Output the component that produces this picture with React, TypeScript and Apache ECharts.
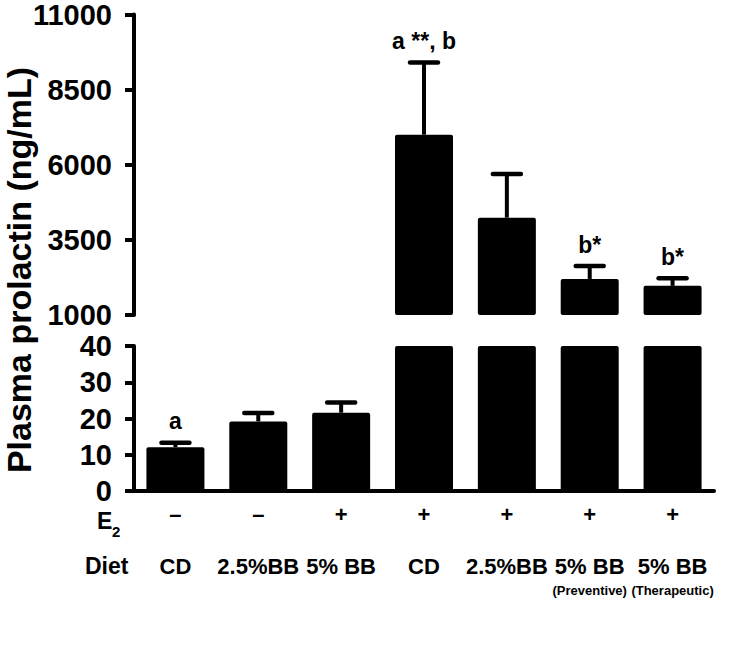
import React, { useEffect, useRef } from "react";
import * as echarts from "echarts";

const groups = ["g1", "g2", "g3", "g4", "g5", "g6", "g7"];
const e2Signs = ["–", "–", "+", "+", "+", "+", "+"];
const dietNames = ["CD", "2.5%BB", "5% BB", "CD", "2.5%BB", "5% BB", "5% BB"];
const dietNotes = ["", "", "", "", "", "(Preventive)", "(Therapeutic)"];
const means = [12.1, 19.2, 21.6, 7000, 4240, 2200, 1970];
const sems = [1.2, 2.3, 2.8, 2400, 1450, 430, 255];
const annotations = ["a", "", "", "a **, b", "", "b*", "b*"];
const upperAxis = { min: 1000, max: 11000, interval: 2500 };
const lowerAxis = { min: 0, max: 40, interval: 10 };
const yTitle = "Plasma prolactin (ng/mL)";

const FAMILY = "Liberation Sans, Arial, sans-serif";

export default function App() {
  const ref = useRef<HTMLDivElement>(null);
  useEffect(() => {
    if (!ref.current) return;
    const chart = echarts.init(ref.current, undefined, { renderer: "svg" });

    const renderErr = (params: any, api: any) => {
      const i = api.value(0);
      const m = api.value(1);
      const e = api.value(2);
      const base = api.coord([i, m]);
      const top = api.coord([i, m + e]);
      const cs = params.coordSys;
      if (top[1] < cs.y - 1 || base[1] > cs.y + cs.height + 1) return null;
      const half = 14;
      const children: any[] = [
        { type: "line", shape: { x1: base[0], y1: base[1], x2: top[0], y2: top[1] }, style: { stroke: "#000", lineWidth: 4 } },
        { type: "line", shape: { x1: top[0] - half, y1: top[1], x2: top[0] + half, y2: top[1] }, style: { stroke: "#000", lineWidth: 4.5, lineCap: "round" } },
      ];
      const note = annotations[params.dataIndex];
      if (note) {
        children.push({
          type: "text",
          x: top[0],
          y: top[1] - 10,
          style: { text: note, fill: "#000", fontSize: 23, fontWeight: "bold", fontFamily: FAMILY, align: "center", verticalAlign: "bottom" },
        });
      }
      return { type: "group", children };
    };

    const errData = means.map((m, i) => [i, m, sems[i]]);

    const yAxisCommon = {
      type: "value",
      splitLine: { show: false },
      axisLine: { show: true, lineStyle: { color: "#000", width: 4 } },
      axisTick: { show: true, length: 9, lineStyle: { color: "#000", width: 4 } },
      axisLabel: {
        color: "#000",
        fontSize: 29,
        fontWeight: "bold",
        fontFamily: FAMILY,
        margin: 22,
        formatter: (v: number) => String(v),
      },
    };

    const staticGraphics: any[] = [
      {
        id: "title",
        type: "text",
        x: 19,
        y: 270,
        rotation: Math.PI / 2,
        style: { text: yTitle, fill: "#000", fontSize: 34, fontWeight: "bold", fontFamily: FAMILY, align: "center", verticalAlign: "middle" },
      },
      { id: "e", type: "text", x: 97, y: 521, style: { text: "E", fill: "#000", fontSize: 23, fontWeight: "bold", fontFamily: FAMILY, align: "left", verticalAlign: "middle" } },
      { id: "e2", type: "text", x: 112, y: 531, style: { text: "2", fill: "#000", fontSize: 15, fontWeight: "bold", fontFamily: FAMILY, align: "left", verticalAlign: "middle" } },
      { id: "diet", type: "text", x: 85, y: 566, style: { text: "Diet", fill: "#000", fontSize: 23, fontWeight: "bold", fontFamily: FAMILY, align: "left", verticalAlign: "middle" } },
    ];

    const option: any = {
      animation: false,
      grid: [
        { left: 134, top: 14, width: 580, height: 301 },
        { left: 134, top: 346, width: 580, height: 145 },
      ],
      xAxis: [
        { type: "category", gridIndex: 0, data: groups, show: false },
        {
          type: "category",
          gridIndex: 1,
          data: groups,
          axisLine: { show: true, lineStyle: { color: "#000", width: 4 } },
          axisTick: { show: false },
          axisLabel: {
            color: "#000",
            fontSize: 22,
            fontWeight: "bold",
            fontFamily: FAMILY,
            margin: 12,
            formatter: (_v: string, i: number) => e2Signs[i],
          },
        },
      ],
      yAxis: [
        { ...yAxisCommon, gridIndex: 0, ...upperAxis },
        { ...yAxisCommon, gridIndex: 1, ...lowerAxis },
      ],
      series: [
        { type: "bar", xAxisIndex: 0, yAxisIndex: 0, data: means, barWidth: "70%", clip: true, itemStyle: { color: "#000", borderRadius: 2 } },
        { type: "bar", xAxisIndex: 1, yAxisIndex: 1, data: means, barWidth: "70%", clip: true, itemStyle: { color: "#000", borderRadius: 2 } },
        { type: "custom", xAxisIndex: 0, yAxisIndex: 0, data: errData, renderItem: renderErr, z: 3 },
        { type: "custom", xAxisIndex: 1, yAxisIndex: 1, data: errData, renderItem: renderErr, z: 3 },
      ],
      graphic: staticGraphics,
    };
    chart.setOption(option);

    // Diet labels placed under each category centre taken from the axis scale
    const axisY = chart.convertToPixel({ yAxisIndex: 1 }, lowerAxis.min) as number;
    const dietGraphics: any[] = [];
    groups.forEach((g, i) => {
      const cx = chart.convertToPixel({ xAxisIndex: 1 }, g) as number;
      dietGraphics.push({
        id: "dietm" + i,
        type: "text",
        x: cx,
        y: axisY + 75,
        style: { text: dietNames[i], fill: "#000", fontSize: 22, fontWeight: "bold", fontFamily: FAMILY, align: "center", verticalAlign: "middle" },
      });
      if (dietNotes[i]) {
        dietGraphics.push({
          id: "dietn" + i,
          type: "text",
          x: cx,
          y: axisY + 99,
          style: { text: dietNotes[i], fill: "#000", fontSize: 13, fontWeight: "bold", fontFamily: FAMILY, align: "center", verticalAlign: "middle" },
        });
      }
    });
    chart.setOption({ graphic: [...staticGraphics, ...dietGraphics] });

    return () => chart.dispose();
  }, []);
  return <div ref={ref} style={{ position: "absolute", left: 0, top: 0, width: 740, height: 646 }} />;
}
